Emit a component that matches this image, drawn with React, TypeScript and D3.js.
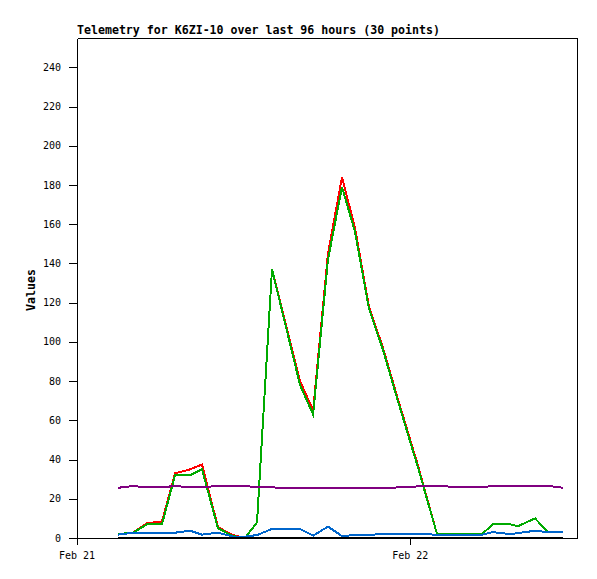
import React from "react";
import * as d3 from "d3";

const TITLE = "Telemetry for K6ZI-10 over last 96 hours (30 points)";
const Y_LABEL = "Values";
const START = new Date(2013, 1, 21, 0, 0);
const END = new Date(2013, 1, 22, 12, 0);
const X_TICKS = [new Date(2013, 1, 21), new Date(2013, 1, 22)];
const Y_TICKS = [0, 20, 40, 60, 80, 100, 120, 140, 160, 180, 200, 220, 240];

// hours since Feb 21 00:00
const hours = [2.95, 4.03, 5.04, 6.12, 7.06, 8.14, 9.0, 10.15, 11.23, 12.1, 12.96, 14.04, 16.06, 17.0, 18.07, 19.08, 20.02, 21.02, 22.03, 23.1, 24.55, 25.92, 27.58, 29.16, 29.95, 31.18, 31.75, 32.98, 33.91, 34.99];

const redValues = [2, 2.7, 7.5, 8.5, 33, 35, 37.5, 5.5, 1.5, 0, 8, 137, 80, 65, 145, 184, 158, 118, 97, 71, 37, 2, 2, 2, 7, 7, 6, 10, 3, 3];
const greenValues = [2, 2.7, 7, 7, 32, 32, 35, 5, 1, 0, 8, 137, 78, 63, 142, 179, 156, 117, 96, 70, 36, 2, 2, 2, 7, 7, 6, 10, 3, 3];
const purpleValues = [25.6, 26.5, 25.8, 25.8, 26.6, 25.8, 25.8, 26.6, 26.6, 26.6, 25.8, 25.8, 25.3, 25.3, 25.3, 25.3, 25.3, 25.3, 25.3, 25.8, 26.3, 26.7, 25.8, 25.8, 26.6, 26.6, 26.6, 26.6, 26.6, 25.6];
const blueValues = [1.7, 2.7, 2.7, 2.7, 2.7, 3.7, 1.7, 2.7, 0.7, 0.7, 1.5, 4.6, 4.6, 1.2, 5.8, 1, 1.5, 1.5, 2.2, 2.2, 2, 1.7, 1.7, 1.7, 3, 2, 2.5, 3.7, 3, 3];
const blackValues = [0, 0, 0, 0, 0, 0, 0, 0, 0, 0, 0, 0, 0, 0, 0, 0, 0, 0, 0, 0, 0, 0, 0, 0, 0, 0, 0, 0, 0, 0];

const SERIES = [
  { name: "red", values: redValues, color: "#ff0000" },
  { name: "green", values: greenValues, color: "#00aa00" },
  { name: "purple", values: purpleValues, color: "#800080" },
  { name: "blue", values: blueValues, color: "#0066cc" },
  { name: "black", values: blackValues, color: "#000000" },
];

const W = 597;
const H = 579;
const L = 77;
const R = 577;
const T = 38;
const B = 538;

export default function App() {
  const times = hours.map((h) => new Date(START.getTime() + h * 3600 * 1000));
  const x = d3.scaleTime().domain([START, END]).range([L, R]);
  const y = d3.scaleLinear().domain([0, 255]).range([B, T]);
  const mono = "'DejaVu Sans Mono', monospace";
  const fmt = d3.timeFormat("%b %d");

  return (
    <svg width={W} height={H} style={{ position: "absolute", left: 0, top: 0, background: "#fff" }}>
      <rect x={0} y={0} width={W} height={H} fill="#fff" />
      {/* series */}
      {SERIES.map((s) => {
        const line = d3
          .line<number>()
          .x((_, i) => x(times[i]))
          .y((v) => y(v));
        return (
          <path
            key={s.name}
            d={line(s.values) || ""}
            fill="none"
            stroke={s.color}
            strokeWidth={2}
            shapeRendering="crispEdges"
          />
        );
      })}
      {/* frame */}
      <g stroke="#000" strokeWidth={1} shapeRendering="crispEdges" fill="none">
        <line x1={L + 0.5} y1={T + 0.5} x2={R + 0.5} y2={T + 0.5} />
        <line x1={R + 0.5} y1={T + 0.5} x2={R + 0.5} y2={B + 0.5} />
        <line x1={L + 0.5} y1={T + 0.5} x2={L + 0.5} y2={B + 0.5} />
        <line x1={L - 7} y1={B + 0.5} x2={R + 0.5} y2={B + 0.5} />
      </g>
      {/* y ticks */}
      {Y_TICKS.map((t) => (
        <g key={t}>
          <line
            x1={L - 8}
            x2={L}
            y1={Math.round(y(t)) + 0.5}
            y2={Math.round(y(t)) + 0.5}
            stroke="#000"
            shapeRendering="crispEdges"
          />
          <text x={61} y={y(t)} dy="0.35em" textAnchor="end" fontFamily={mono} fontSize={10} fill="#000">
            {t}
          </text>
        </g>
      ))}
      {/* x ticks */}
      {X_TICKS.map((t) => (
        <g key={t.getTime()}>
          <line
            x1={Math.round(x(t)) + 0.5}
            x2={Math.round(x(t)) + 0.5}
            y1={B}
            y2={B + 7}
            stroke="#000"
            shapeRendering="crispEdges"
          />
          <text x={x(t)} y={559} textAnchor="middle" fontFamily={mono} fontSize={10} fill="#000">
            {fmt(t).replace(/ 0/, " ")}
          </text>
        </g>
      ))}
      <text x={L} y={34} fontFamily={mono} fontWeight="bold" fontSize={11.6} fill="#000">
        {TITLE}
      </text>
      <text
        transform={`translate(35, 290) rotate(-90)`}
        textAnchor="middle"
        fontFamily={mono}
        fontWeight="bold"
        fontSize={11.6}
        fill="#000"
      >
        {Y_LABEL}
      </text>
    </svg>
  );
}
